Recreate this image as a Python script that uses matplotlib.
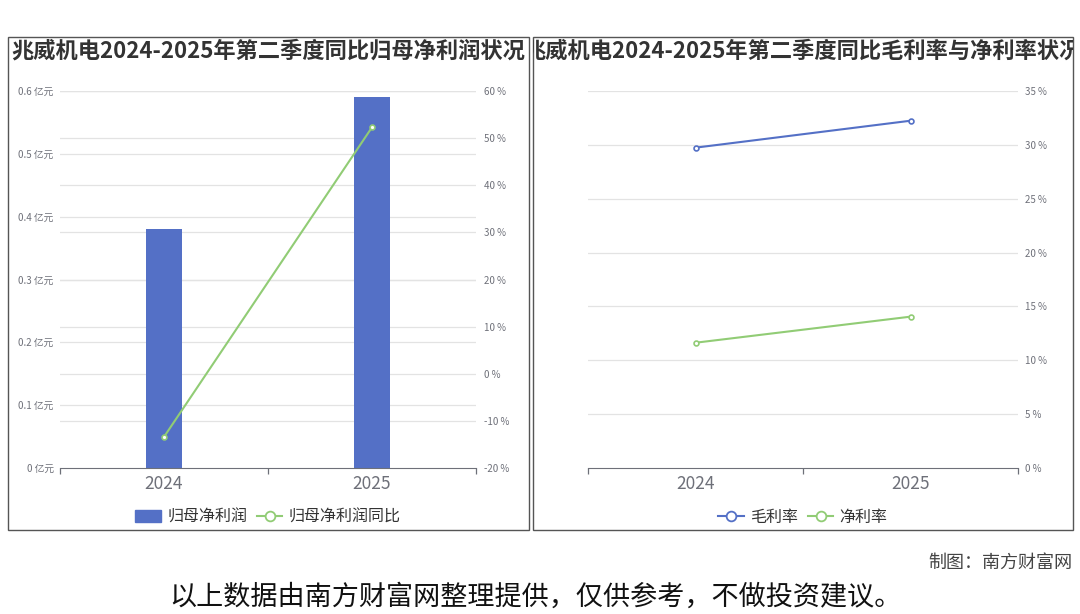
import matplotlib
matplotlib.use("Agg")
from matplotlib import pyplot as plt
from matplotlib.patches import Rectangle
from matplotlib.lines import Line2D
from matplotlib.transforms import Bbox, TransformedBbox, blended_transform_factory
import numpy as np

plt.rcParams['font.family'] = ['Noto Sans CJK SC', 'DejaVu Sans']

# data
years = ['2024', '2025']
profit = [0.380, 0.590]          # 归母净利润, 亿元
profit_yoy = [-13.4, 52.3]       # 归母净利润同比, %
gross_margin = [29.74, 32.24]    # 毛利率, %
net_margin = [11.63, 14.05]      # 净利率, %

left_ticks = [0, 0.1, 0.2, 0.3, 0.4, 0.5, 0.6]
yoy_ticks = [-20, -10, 0, 10, 20, 30, 40, 50, 60]
margin_ticks = [0, 5, 10, 15, 20, 25, 30, 35]

title_left = '兆威机电2024-2025年第二季度同比归母净利润状况'
title_right = '兆威机电2024-2025年第二季度同比毛利率与净利率状况'

BLUE = '#5470c6'
GREEN = '#91cc75'
AXIS = '#6e7079'
GRID = '#e3e3e3'

W, H = 1080, 614
fig = plt.figure(figsize=(W / 100, H / 100), dpi=100)


def fx(px):
    return px / W


def fy(py):
    return 1 - py / H


# panel frames
panels = [(8, 37, 529, 530), (533, 37, 1073, 530)]
for (x0, y0, x1, y1) in panels:
    fig.patches.append(Rectangle((fx(x0), fy(y1)), fx(x1 - x0), (y1 - y0) / H,
                                 transform=fig.transFigure, fill=False,
                                 edgecolor='#555555', linewidth=1.0, zorder=5))

# ---- left panel: bars + yoy line
ax1 = fig.add_axes([fx(60), fy(468), fx(476 - 60), (468 - 91) / H])
ax1b = ax1.twinx()
x = np.arange(len(years))

ax1.set_ylim(0, 0.6)
ax1b.set_ylim(-20, 60)
ax1.set_xlim(-0.5, 1.5)

for v in left_ticks[1:]:
    ax1.axhline(v, color=GRID, linewidth=0.9, zorder=0)
tr = blended_transform_factory(ax1.transAxes, ax1b.transData)
for v in yoy_ticks[1:]:
    ax1.plot([0, 1], [v, v], transform=tr, color=GRID, linewidth=0.9, zorder=0)

ax1.bar(x, profit, width=0.17, color=BLUE, zorder=2)
ax1b.plot(x, profit_yoy, color=GREEN, linewidth=1.5, marker='o', markersize=3.5,
          markerfacecolor='white', markeredgecolor=GREEN, markeredgewidth=1.2, zorder=3)

ax1.set_yticks(left_ticks)
ax1.set_yticklabels([f'{v:g} 亿元' for v in left_ticks])
ax1b.set_yticks(yoy_ticks)
ax1b.set_yticklabels([f'{v} %' for v in yoy_ticks])

# ---- right panel: margins
ax2 = fig.add_axes([fx(588), fy(468), fx(1018 - 588), (468 - 91) / H])
ax2.set_xlim(-0.5, 1.5)
ax2.set_ylim(0, 35)
for v in margin_ticks[1:]:
    ax2.axhline(v, color=GRID, linewidth=0.9, zorder=0)
ax2.plot(x, gross_margin, color=BLUE, linewidth=1.5, marker='o', markersize=3.5,
         markerfacecolor='white', markeredgecolor=BLUE, markeredgewidth=1.2, zorder=3)
ax2.plot(x, net_margin, color=GREEN, linewidth=1.5, marker='o', markersize=3.5,
         markerfacecolor='white', markeredgecolor=GREEN, markeredgewidth=1.2, zorder=3)
ax2.yaxis.tick_right()
ax2.set_yticks(margin_ticks)
ax2.set_yticklabels([f'{v} %' for v in margin_ticks])

for ax in (ax1, ax1b, ax2):
    ax.patch.set_visible(False)
    for s in ('top', 'left', 'right'):
        ax.spines[s].set_visible(False)
    ax.spines['bottom'].set_visible(ax is not ax1b)
    ax.spines['bottom'].set_color(AXIS)
    ax.tick_params(axis='y', length=0, labelsize=7, labelcolor=AXIS)

ax1.tick_params(axis='y', pad=4.5)
ax1b.tick_params(axis='y', pad=6)
ax2.tick_params(axis='y', pad=5)
ax2.tick_params(axis='y', which='both', left=False)

for ax in (ax1, ax2):
    ax.set_xticks(x)
    ax.set_xticklabels(years)
    ax.set_xticks([-0.5, 0.5, 1.5], minor=True)
    ax.tick_params(axis='x', which='major', length=0, labelsize=12.5, labelcolor=AXIS, pad=5)
    ax.tick_params(axis='x', which='minor', length=4.5, color=AXIS, width=0.9)

# legends
h_bar = Rectangle((0, 0), 1, 1, facecolor=BLUE, edgecolor=BLUE)
h_yoy = Line2D([], [], color=GREEN, linewidth=1.5, marker='o', markersize=7,
               markerfacecolor='white', markeredgewidth=1.3)
fig.legend([h_bar, h_yoy], ['归母净利润', '归母净利润同比'], loc='center',
           bbox_to_anchor=(fx(268), fy(517)), ncol=2, frameon=False, fontsize=11.5,
           handlelength=1.6, handleheight=0.8, columnspacing=0.6, handletextpad=0.4,
           labelcolor='#333333')
h_g = Line2D([], [], color=BLUE, linewidth=1.5, marker='o', markersize=7,
             markerfacecolor='white', markeredgewidth=1.3)
h_n = Line2D([], [], color=GREEN, linewidth=1.5, marker='o', markersize=7,
             markerfacecolor='white', markeredgewidth=1.3)
fig.legend([h_g, h_n], ['毛利率', '净利率'], loc='center',
           bbox_to_anchor=(fx(803), fy(517)), ncol=2, frameon=False, fontsize=11.5,
           handlelength=1.6, columnspacing=0.6, handletextpad=0.4, labelcolor='#333333')

# titles clipped to their panels
for (x0, y0, x1, y1), t in zip(panels, [title_left, title_right]):
    txt = fig.text(fx((x0 + x1) / 2), fy(51), t, ha='center', va='center',
                   fontsize=16, fontweight='bold', color='#333333', zorder=6)
    txt.set_clip_box(TransformedBbox(Bbox.from_extents(fx(x0), fy(y1), fx(x1), fy(y0)),
                                     fig.transFigure))
    txt.set_clip_on(True)

fig.text(fx(1072), fy(563), '制图：南方财富网', ha='right', va='center',
         fontsize=13, color='#444444')
fig.text(fx(535), fy(597), '以上数据由南方财富网整理提供，仅供参考，不做投资建议。',
         ha='center', va='center', fontsize=19.5, color='#111111')

fig.savefig('out.png', dpi=100)
